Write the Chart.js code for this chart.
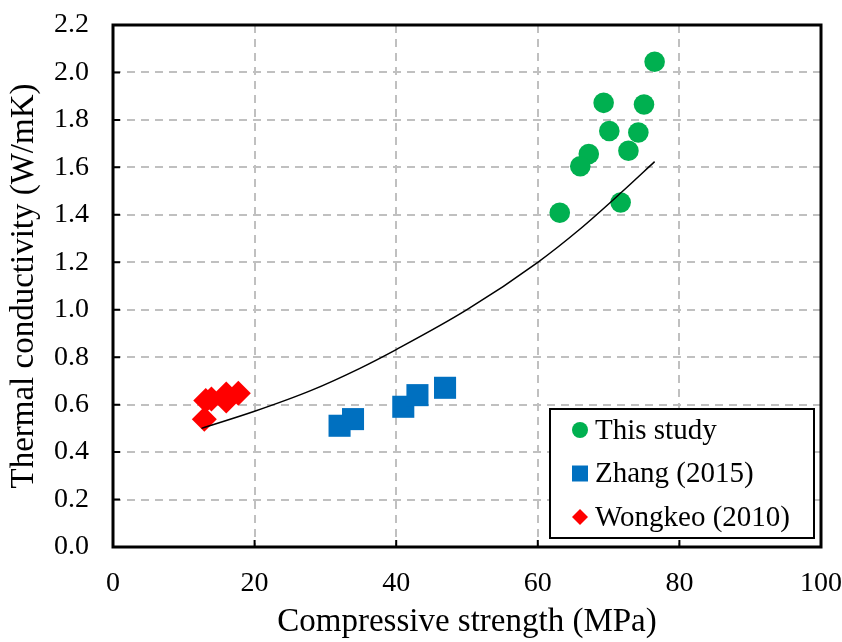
<!DOCTYPE html>
<html>
<head>
<meta charset="utf-8">
<script src="https://cdn.jsdelivr.net/npm/chart.js@4.4.1/dist/chart.umd.min.js"></script>
<style>
  html, body { margin: 0; padding: 0; background: #fff; }
  #wrap { width: 842px; height: 642px; position: relative; }
</style>
</head>
<body>
<div id="wrap"><canvas id="chart"></canvas></div>
<script>
  // ---------------------------------------------------------------
  // data
  // ---------------------------------------------------------------
  const thisStudyX = [76.5, 69.3, 75.0, 70.1, 74.2, 72.8, 67.2, 66.0, 71.7, 63.1];
  const thisStudyY = [2.045, 1.872, 1.865, 1.753, 1.747, 1.670, 1.656, 1.605, 1.452, 1.409];

  const zhangX = [32.0, 33.9, 41.0, 43.0, 46.9];
  const zhangY = [0.511, 0.539, 0.591, 0.640, 0.671];

  const wongkeoX = [12.9, 13.1, 13.9, 16.0, 16.0, 17.7];
  const wongkeoY = [0.538, 0.617, 0.624, 0.615, 0.645, 0.648];

  // trend curve, points picked along the drawn line
  const trendX = [12.5, 20.0, 28.0, 34.8, 40.0, 50.0, 60.0, 65.8, 71.9, 76.5];
  const trendY = [0.500, 0.572, 0.660, 0.752, 0.832, 1.000, 1.200, 1.336, 1.497, 1.624];

  const xTicks = [0, 20, 40, 60, 80, 100];
  const yTicks = [0, 0.2, 0.4, 0.6, 0.8, 1.0, 1.2, 1.4, 1.6, 1.8, 2.0, 2.2];

  const FONT = "'Liberation Serif', 'Times New Roman', serif";

  const pts = (xs, ys) => xs.map((x, i) => ({ x, y: ys[i] }));

  // ---------------------------------------------------------------
  // plugins: frame, inner ticks, legend box
  // ---------------------------------------------------------------
  const framePlugin = {
    id: 'frame',
    afterDatasetsDraw(chart) {
      const { ctx, chartArea: a, scales } = chart;
      ctx.save();
      // small inside ticks on left / bottom
      ctx.strokeStyle = '#000';
      ctx.lineWidth = 2;
      ctx.beginPath();
      xTicks.forEach(v => {
        const px = scales.x.getPixelForValue(v);
        ctx.moveTo(px, a.bottom);
        ctx.lineTo(px, a.bottom - 7);
      });
      yTicks.forEach(v => {
        const py = scales.y.getPixelForValue(v);
        ctx.moveTo(a.left, py);
        ctx.lineTo(a.left + 7, py);
      });
      ctx.stroke();

      ctx.lineWidth = 3;
      ctx.strokeRect(a.left, a.top, a.right - a.left, a.bottom - a.top);
      ctx.restore();
    }
  };

  const legendPlugin = {
    id: 'boxLegend',
    afterDatasetsDraw(chart) {
      const { ctx, chartArea: a } = chart;
      const w = 264, h = 129;
      const x0 = a.right - 7 - w;
      const y0 = a.bottom - 9 - h;
      ctx.save();
      ctx.fillStyle = '#fff';
      ctx.fillRect(x0, y0, w, h);
      ctx.strokeStyle = '#000';
      ctx.lineWidth = 2;
      ctx.strokeRect(x0, y0, w, h);

      const rows = chart.data.datasets.filter(d => d.inLegend);
      rows.forEach((d, i) => {
        const cy = y0 + 21 + i * 43.5;
        const cx = x0 + 30;
        ctx.fillStyle = d.backgroundColor;
        ctx.beginPath();
        if (d.pointStyle === 'circle') {
          ctx.arc(cx, cy, 8, 0, Math.PI * 2);
        } else if (d.pointStyle === 'rect') {
          ctx.rect(cx - 8, cy - 8, 16, 16);
        } else {
          ctx.moveTo(cx, cy - 8); ctx.lineTo(cx + 8, cy);
          ctx.lineTo(cx, cy + 8); ctx.lineTo(cx - 8, cy);
          ctx.closePath();
        }
        ctx.fill();
        ctx.fillStyle = '#000';
        ctx.font = `29px ${FONT}`;
        ctx.textBaseline = 'middle';
        ctx.textAlign = 'left';
        ctx.fillText(d.label, x0 + 45, cy + 1);
      });
      ctx.restore();
    }
  };

  // no label overhang padding, the layout padding sets the plot box
  const noPad = s => { s.paddingTop = 0; s.paddingBottom = 0; s.paddingLeft = 0; s.paddingRight = 0; };

  // ---------------------------------------------------------------
  // chart
  // ---------------------------------------------------------------
  new Chart(document.getElementById('chart'), {
    type: 'scatter',
    data: {
      datasets: [
        {
          label: 'trend',
          data: pts(trendX, trendY),
          showLine: true,
          borderColor: '#000',
          borderWidth: 1.5,
          pointRadius: 0,
          cubicInterpolationMode: 'monotone',
          order: 0
        },
        {
          label: 'This study',
          inLegend: true,
          data: pts(thisStudyX, thisStudyY),
          pointStyle: 'circle',
          pointRadius: 10.3,
          backgroundColor: '#00b050',
          borderWidth: 0,
          order: 1
        },
        {
          label: 'Zhang (2015)',
          inLegend: true,
          data: pts(zhangX, zhangY),
          pointStyle: 'rect',
          pointRadius: 15.6,
          backgroundColor: '#0070c0',
          borderWidth: 0,
          order: 2
        },
        {
          label: 'Wongkeo (2010)',
          inLegend: true,
          data: pts(wongkeoX, wongkeoY),
          pointStyle: 'rectRot',
          pointRadius: 12.5,
          backgroundColor: '#ff0000',
          borderWidth: 0,
          order: 3
        }
      ]
    },
    options: {
      responsive: true,
      maintainAspectRatio: false,
      animation: false,
      layout: { autoPadding: false, padding: { top: 25, right: 21, left: 0, bottom: 0 } },
      plugins: {
        legend: { display: false },
        tooltip: { enabled: false }
      },
      scales: {
        x: {
          type: 'linear',
          min: 0, max: 100,
          afterFit: s => { s.height = 95; noPad(s); },
          afterBuildTicks: s => { s.ticks = xTicks.map(v => ({ value: v })); },
          ticks: {
            color: '#000',
            font: { family: FONT, size: 28 },
            padding: 20,
            maxRotation: 0
          },
          grid: { color: '#c0c0c0', lineWidth: 2, drawTicks: false },
          border: { display: false, dash: [8, 6] },
          title: {
            display: true,
            text: 'Compressive strength (MPa)',
            color: '#000',
            font: { family: FONT, size: 33 },
            padding: { top: 0, bottom: 0 }
          }
        },
        y: {
          type: 'linear',
          min: 0, max: 2.2,
          afterFit: s => { s.width = 113; noPad(s); },
          afterBuildTicks: s => { s.ticks = yTicks.map(v => ({ value: v })); },
          ticks: {
            color: '#000',
            font: { family: FONT, size: 28 },
            padding: 24,
            callback: v => Number(v).toFixed(1)
          },
          grid: { color: '#c0c0c0', lineWidth: 2, drawTicks: false },
          border: { display: false, dash: [8, 6] },
          title: {
            display: true,
            text: 'Thermal conductivity (W/mK)',
            color: '#000',
            font: { family: FONT, size: 33 },
            padding: { top: 5, bottom: 0 }
          }
        }
      }
    },
    plugins: [framePlugin, legendPlugin]
  });
</script>
</body>
</html>
